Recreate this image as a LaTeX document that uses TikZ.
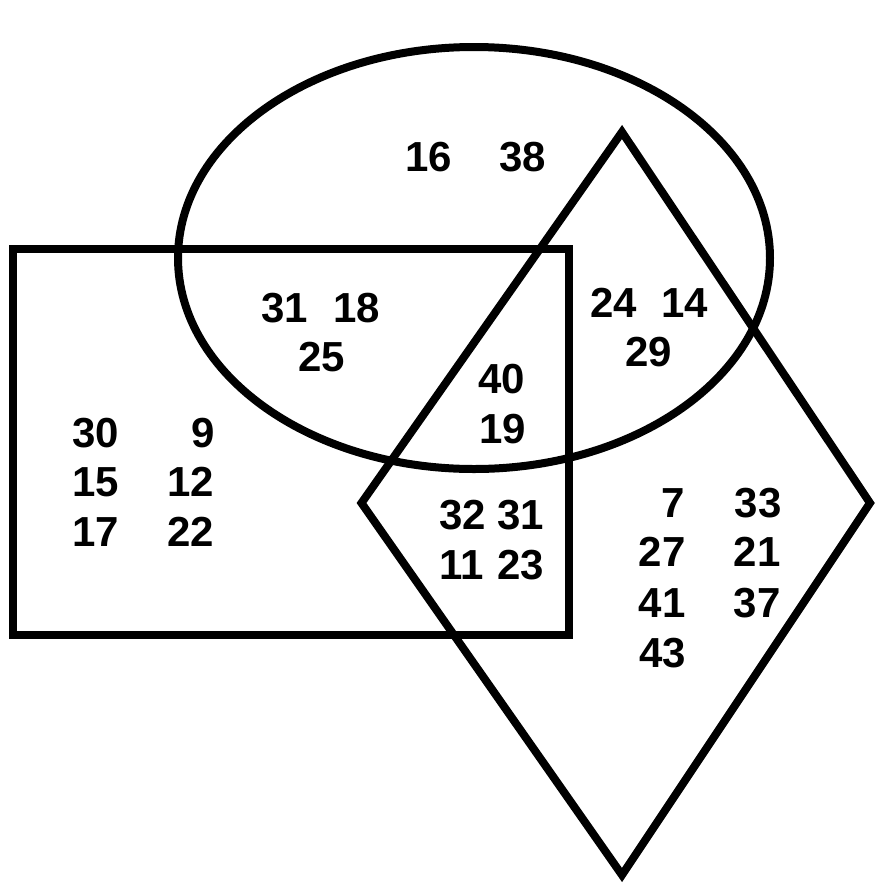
\documentclass[tikz,border=0pt]{standalone}
\usepackage{fontspec}
\setmainfont{Liberation Sans}
\begin{document}
\begin{tikzpicture}[x=1pt,y=-1pt,
  shapeline/.style={draw=black,line width=8pt,miter limit=10},
  num/.style={inner sep=0pt,font=\fontsize{42}{42}\selectfont\bfseries}]
\useasboundingbox (0,0) rectangle (876,884);
\draw[shapeline] (474,258) ellipse [x radius=296, y radius=211];
\draw[shapeline] (12.5,248.5) rectangle (569,635);
\draw[shapeline] (622,132) -- (361.5,503) -- (622,875) -- (870,503) -- cycle;
% ellipse only
\node[num] (n16) at (429,157) {16};
\node[num] (n38) at (523,157) {38};
% ellipse and rectangle
\node[num] (n31a) at (285,308) {31};
\node[num] (n18) at (357,308) {18};
\node[num] (n25) at (322,357) {25};
% ellipse and diamond
\node[num] (n24) at (614,303) {24};
\node[num] (n14) at (685,303) {14};
\node[num] (n29) at (649,352) {29};
% all three
\node[num] (n40) at (502,379) {40};
\node[num] (n19) at (503,429) {19};
% rectangle only
\node[num] (n30) at (96,433) {30};
\node[num,anchor=east] (n9) at (215,433) {9};
\node[num] (n15) at (96,482) {15};
\node[num] (n12) at (191,482) {12};
\node[num] (n17) at (96,532) {17};
\node[num] (n22) at (191,532) {22};
% rectangle and diamond
\node[num] (n32) at (463,515) {32};
\node[num] (n31b) at (521,515) {31};
\node[num] (n11) at (462,565) {11};
\node[num] (n23) at (521,565) {23};
% diamond only
\node[num,anchor=east] (n7) at (685,503) {7};
\node[num] (n33) at (758,503) {33};
\node[num] (n27) at (662,552) {27};
\node[num] (n21) at (757,552) {21};
\node[num] (n41) at (662,603) {41};
\node[num] (n37) at (757,603) {37};
\node[num] (n43) at (663,653) {43};
\end{tikzpicture}
\end{document}
